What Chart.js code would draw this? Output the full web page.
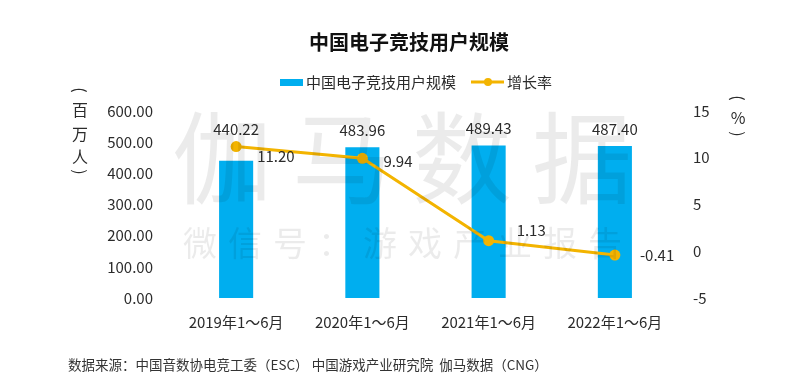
<!DOCTYPE html>
<html>
<head>
<meta charset="utf-8">
<script src="https://cdn.jsdelivr.net/npm/chart.js@4.4.1/dist/chart.umd.min.js"></script>
<style>
  html, body { margin: 0; padding: 0; background: #fff; }
  #wrap { width: 805px; height: 386px; }
</style>
</head>
<body>
<div id="wrap"><canvas id="chart" width="805" height="386"></canvas></div>
<script>
const categories = ["2019年1～6月", "2020年1～6月", "2021年1～6月", "2022年1～6月"];
const users = [440.22, 483.96, 489.43, 487.4];
const growth = [11.2, 9.94, 1.13, -0.41];
const leftTicks = [0, 100, 200, 300, 400, 500, 600];
const rightTicks = [-5, 0, 5, 10, 15];

const FONT = "'Noto Sans CJK SC', 'Noto Sans', sans-serif";
const BLUE = "#00AEEF";
const GOLD = "#F3B400";
const TEXT = "#2b2b2b";

// where the growth labels sit relative to their points
const growthLabelOffsets = [[21, 10], [21, 3], [28, -10], [25, 0]];

// vertical unit text: parentheses are drawn turned a quarter turn
function drawVertical(ctx, chars, x, ys) {
  chars.forEach((c, i) => {
    if (c === "（" || c === "）") {
      ctx.save();
      ctx.translate(x, ys[i]);
      ctx.rotate(Math.PI / 2);
      ctx.fillText(c === "（" ? "(" : ")", 0, 0);
      ctx.restore();
    } else {
      ctx.fillText(c, x, ys[i]);
    }
  });
}

const extras = {
  id: "extras",
  afterDatasetsDraw(chart) {
    const { ctx } = chart;
    ctx.save();
    // watermark
    ctx.fillStyle = "rgba(0,0,0,0.08)";
    ctx.textAlign = "center";
    ctx.textBaseline = "middle";
    ctx.font = `100px ${FONT}`;
    "伽马数据".split("").forEach((c, i) => ctx.fillText(c, 222 + i * 120, 158));
    ctx.font = `34px ${FONT}`;
    "微信号：游戏产业报告".split("").forEach((c, i) => ctx.fillText(c, 200 + i * 45, 243));

    const barMeta = chart.getDatasetMeta(0);
    const lineMeta = chart.getDatasetMeta(1);
    ctx.fillStyle = TEXT;
    ctx.font = `15px ${FONT}`;
    ctx.textAlign = "center";
    ctx.textBaseline = "middle";
    barMeta.data.forEach((bar, i) => {
      const top = Math.min(bar.y, lineMeta.data[i].y);
      ctx.fillText(users[i].toFixed(2), bar.x, top - 17);
    });
    ctx.textAlign = "left";
    lineMeta.data.forEach((pt, i) => {
      const [dx, dy] = growthLabelOffsets[i];
      ctx.fillText(growth[i].toFixed(2), pt.x + dx, pt.y + dy);
    });
    ctx.restore();
  },
  afterDraw(chart) {
    const { ctx } = chart;
    ctx.save();
    // title
    ctx.fillStyle = "#111";
    ctx.textAlign = "center";
    ctx.textBaseline = "middle";
    ctx.font = `bold 20px ${FONT}`;
    ctx.fillText("中国电子竞技用户规模", 409, 42);

    // legend
    ctx.font = `15px ${FONT}`;
    ctx.textAlign = "left";
    ctx.fillStyle = BLUE;
    ctx.fillRect(280, 79, 23, 7);
    ctx.fillStyle = TEXT;
    ctx.fillText(chart.data.datasets[0].label, 306, 82);
    ctx.strokeStyle = GOLD;
    ctx.lineWidth = 3;
    ctx.beginPath();
    ctx.moveTo(471, 82);
    ctx.lineTo(504, 82);
    ctx.stroke();
    ctx.fillStyle = GOLD;
    ctx.beginPath();
    ctx.arc(488, 82, 4, 0, Math.PI * 2);
    ctx.fill();
    ctx.fillStyle = TEXT;
    ctx.fillText(chart.data.datasets[1].label, 507, 82);

    // axis units
    ctx.textAlign = "center";
    ctx.font = `16px ${FONT}`;
    drawVertical(ctx, ["（", "百", "万", "人", "）"], 80, [90, 110, 134, 157, 172]);
    drawVertical(ctx, ["（", "%", "）"], 738, [98, 118, 134]);

    // source
    ctx.textAlign = "left";
    ctx.font = `13.5px ${FONT}`;
    ctx.fillStyle = "#333";
    ctx.fillText("数据来源：中国音数协电竞工委（ESC） 中国游戏产业研究院  伽马数据（CNG）", 68, 365);
    ctx.restore();
  }
};

new Chart(document.getElementById("chart"), {
  data: {
    labels: categories,
    datasets: [
      {
        type: "bar",
        label: "中国电子竞技用户规模",
        data: users,
        backgroundColor: BLUE,
        yAxisID: "y",
        barPercentage: 0.27,
        categoryPercentage: 1,
        order: 1
      },
      {
        type: "line",
        label: "增长率",
        data: growth,
        borderColor: GOLD,
        backgroundColor: GOLD,
        borderWidth: 3,
        pointRadius: 5.5,
        pointBackgroundColor: GOLD,
        pointBorderWidth: 0,
        yAxisID: "y1",
        order: 0
      }
    ]
  },
  options: {
    responsive: false,
    animation: false,
    layout: { padding: { top: 111, bottom: 0, left: 0, right: 0 } },
    plugins: {
      legend: { display: false },
      title: { display: false },
      tooltip: { enabled: false }
    },
    scales: {
      x: {
        grid: { display: false, drawTicks: false },
        border: { display: false },
        ticks: { color: TEXT, font: { family: FONT, size: 15 }, padding: 15 },
        afterFit: (s) => { s.height = 88; }
      },
      y: {
        position: "left",
        min: leftTicks[0],
        max: leftTicks[leftTicks.length - 1],
        grid: { display: false, drawTicks: false },
        border: { display: false },
        afterBuildTicks: (s) => { s.ticks = leftTicks.map((v) => ({ value: v })); },
        ticks: {
          color: TEXT,
          font: { family: FONT, size: 15 },
          padding: 20,
          callback: (v) => Number(v).toFixed(2)
        },
        afterFit: (s) => { s.width = 173; }
      },
      y1: {
        position: "right",
        min: rightTicks[0],
        max: rightTicks[rightTicks.length - 1],
        grid: { display: false, drawTicks: false },
        border: { display: false },
        afterBuildTicks: (s) => { s.ticks = rightTicks.map((v) => ({ value: v })); },
        ticks: { color: TEXT, font: { family: FONT, size: 15 }, padding: 15 },
        afterFit: (s) => { s.width = 127; }
      }
    }
  },
  plugins: [extras]
});
</script>
</body>
</html>
